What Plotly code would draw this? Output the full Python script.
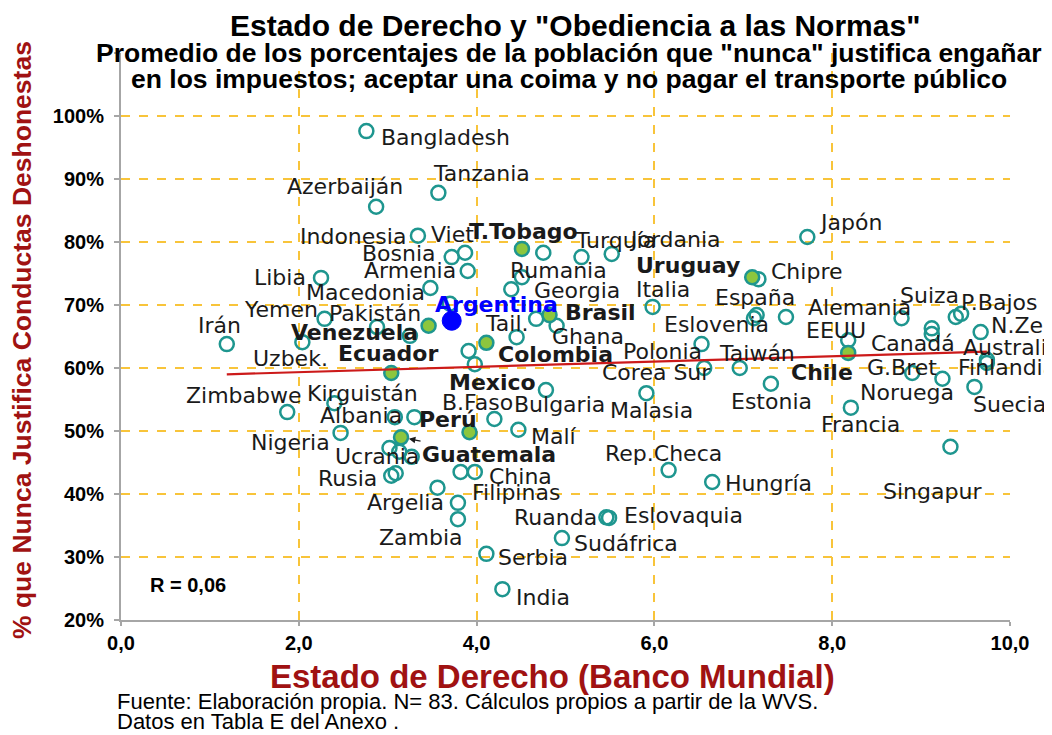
import numpy as np
import plotly.graph_objects as go

# ------------------------------------------------------------
# Datos: Estado de Derecho (Banco Mundial, 0-10) vs % que nunca
# justifica conductas deshonestas (WVS). "" = punto sin etiqueta
# ------------------------------------------------------------
paises = [
    "Bangladesh", "Azerbaiján", "Tanzania", "Indonesia", "Viet", "Bosnia", "Armenia",
    "Macedonia", "Libia", "T.Tobago", "", "Turquía", "Jordania", "Rumania", "Georgia",
    "Argentina", "", "Pakistán", "", "Venezuela", "Yemen", "Irán", "Uzbek.", "Ecuador",
    "Brasil", "", "Ghana", "Tail.", "Colombia", "", "Mexico", "Italia", "Polonia",
    "Corea Sur", "Taiwán", "Malasia", "Estonia", "Japón", "Uruguay", "Chipre", "España",
    "Eslovenia", "Alemania", "EEUU", "Chile", "Suiza", "Canadá", "", "P.Bajos", "",
    "N.Zel", "Australia", "Finlandia", "G.Bret", "Noruega", "Suecia", "Francia",
    "Singapur", "Zimbabwe", "Kirguistán", "Nigeria", "", "Albania", "Guatemala", "", "",
    "Ucrania", "Rusia", "", "Perú", "B.Faso", "Malí", "Bulgaria", "China", "", "Argelia",
    "Filipinas", "Zambia", "Ruanda", "Eslovaquia", "Sudáfrica", "Serbia", "India",
    "Rep.Checa", "Hungría",
]
estado_derecho = [
    2.76, 2.87, 3.57, 3.34, 3.87, 3.72, 3.90,
    3.48, 2.25, 4.51, 4.75, 5.18, 5.52, 4.51, 4.39,
    3.72, 3.70, 2.88, 3.25, 3.46, 2.29, 1.19, 2.04, 3.04,
    4.82, 4.67, 4.90, 4.45, 4.11, 3.91, 3.98, 5.98, 6.53,
    6.56, 6.96, 5.91, 7.31, 7.72, 7.10, 7.17, 7.15,
    7.12, 7.48, 8.18, 8.18, 8.78, 9.12, 9.12, 9.45, 9.39,
    9.67, 9.74, 9.74, 8.90, 9.24, 9.60, 8.21,
    9.33, 1.87, 2.40, 2.47, 3.08, 3.30, 3.15, 3.02, 3.13,
    3.27, 3.04, 3.09, 3.92, 4.20, 4.47, 4.78, 3.98, 3.82, 3.56,
    3.79, 3.79, 5.46, 5.49, 4.96, 4.11, 4.29,
    6.16, 6.65,
]
pct_nunca = [
    97.6, 85.6, 87.8, 81.0, 78.3, 77.6, 75.4,
    72.7, 74.3, 78.9, 78.3, 77.6, 78.1, 74.4, 72.5,
    67.5, 70.2, 66.5, 65.1, 66.7, 67.8, 63.8, 64.1, 59.2,
    68.4, 67.8, 66.7, 64.9, 64.0, 62.7, 60.6, 69.7, 63.8,
    60.0, 60.0, 56.0, 57.5, 80.8, 74.4, 74.1, 68.4,
    67.9, 68.1, 64.4, 62.4, 67.9, 66.3, 65.4, 68.6, 68.1,
    65.7, 61.3, 60.8, 59.2, 58.3, 57.0, 53.7,
    47.5, 53.0, 54.4, 49.7, 52.2, 52.2, 49.0, 47.3, 46.7,
    45.9, 42.9, 43.3, 49.8, 51.9, 50.2, 56.5, 43.5, 43.5, 41.0,
    38.6, 36.0, 36.3, 36.2, 33.0, 30.5, 24.9,
    43.8, 41.9,
]
latam = ["T.Tobago", "Brasil", "Colombia", "Ecuador", "Venezuela", "Uruguay", "Chile", "Perú", "Guatemala"]
negrita = latam + ["Mexico"]
r_texto = "R = 0,06"

# ------------------------------------------------------------
# Estilo
# ------------------------------------------------------------
TEAL = "#1E968F"
VERDE = "#8CC63E"
ROJO_OSC = "#A01212"
ORO = "#F8C43A"
GRIS = "#A6A6A6"

# la pagina tiene 8px de margen en body: la figura se dibuja desplazada
OFF = 8
W, H = 1052 - OFF, 735 - OFF
PL, PR, PT, PB = 121 - OFF, 1010 - OFF, 53 - OFF, 620 - OFF   # area de datos (px figura)


def papel(px, py):
    # px, py en pixeles de la pagina
    return (px - OFF - PL) / (PR - PL), (PB - (py - OFF)) / (PB - PT)


# colocacion de etiquetas: (anclaje, dx, dy) en pixeles respecto al punto
ETIQ = {
    "Bangladesh": ("left", 13, 6), "Azerbaiján": ("center", -31, -20),
    "Tanzania": ("left", -7, -19), "Indonesia": ("right", -10, 1),
    "Viet": ("center", -13, -18), "Bosnia": ("right", -14, -4),
    "Armenia": ("right", -10, 0), "Macedonia": ("right", -3, 5),
    "Libia": ("right", -13, 0), "T.Tobago": ("center", 2, -17),
    "Turquía": ("left", -9, -17), "Jordania": ("left", 15, -14),
    "Rumania": ("left", -14, -7), "Georgia": ("left", 21, 1),
    "Argentina": ("left", -19, -16), "Pakistán": ("center", -2, -14),
    "Venezuela": ("right", -9, 7), "Yemen": ("right", -5, -9),
    "Irán": ("center", -7, -19), "Uzbek.": ("center", -12, 16),
    "Ecuador": ("center", -3, -20), "Brasil": ("left", 13, -3),
    "Ghana": ("left", -7, 11), "Tail.": ("center", -10, -14),
    "Colombia": ("left", 10, 12), "Mexico": ("center", 18, 18),
    "Italia": ("center", 10, -17), "Polonia": ("center", -39, 7),
    "Corea Sur": ("center", -48, 4), "Taiwán": ("center", 17, -15),
    "Malasia": ("center", 5, 17), "Estonia": ("center", 1, 18),
    "Japón": ("left", 10, -14), "Uruguay": ("right", -10, -12),
    "Chipre": ("left", 11, -8), "España": ("center", -2, -18),
    "Eslovenia": ("center", -37, 6), "Alemania": ("left", 20, -9),
    "EEUU": ("center", -12, -10), "Chile": ("center", -26, 20),
    "Suiza": ("center", 28, -23), "Canadá": ("center", -19, 15),
    "P.Bajos": ("left", -2, -11), "N.Zel": ("left", 8, -7),
    "Australia": ("left", -26, -12), "Finlandia": ("left", -31, 5),
    "G.Bret": ("center", -10, -6), "Noruega": ("center", -35, 14),
    "Suecia": ("left", -3, 18), "Francia": ("center", 10, 17),
    "Singapur": ("center", -18, 45), "Zimbabwe": ("center", -43, -17),
    "Kirguistán": ("center", 28, -10), "Nigeria": ("right", -9, 10),
    "Albania": ("right", -10, -2), "Ucrania": ("center", -35, 0),
    "Rusia": ("right", -12, 3), "Perú": ("center", -21, -13),
    "B.Faso": ("center", -17, -17), "Malí": ("left", 11, 7),
    "Bulgaria": ("center", 14, 14), "China": ("left", 12, 5),
    "Argelia": ("center", -32, 15), "Filipinas": ("left", 12, -10),
    "Zambia": ("center", -37, 18), "Ruanda": ("right", -7, 0),
    "Eslovaquia": ("left", 13, -2), "Sudáfrica": ("left", 10, 5),
    "Serbia": ("left", 10, 4), "India": ("left", 12, 8),
    "Rep.Checa": ("center", -5, -17), "Hungría": ("left", 11, 1),
}

x = np.array(estado_derecho)
y = np.array(pct_nunca)
es_latam = np.array([p in latam for p in paises])
es_arg = np.array([p == "Argentina" for p in paises])
resto = ~es_latam & ~es_arg

fig = go.Figure()

fig.add_trace(go.Scatter(
    x=x[resto], y=y[resto], mode="markers", hoverinfo="skip",
    marker=dict(size=14, color="rgba(255,255,255,0)", line=dict(color=TEAL, width=2.5)),
))
fig.add_trace(go.Scatter(
    x=x[es_latam], y=y[es_latam], mode="markers", hoverinfo="skip",
    marker=dict(size=14, color=VERDE, line=dict(color=TEAL, width=2.5)),
))
fig.add_trace(go.Scatter(
    x=x[es_arg], y=y[es_arg], mode="markers", hoverinfo="skip",
    marker=dict(size=19, color="#0000FF", line=dict(color="#0000FF", width=1)),
))

# linea de tendencia (minimos cuadrados)
m, b = np.polyfit(x, y, 1)
xl = np.array([x.min(), x.max()])
fig.add_trace(go.Scatter(x=xl, y=m * xl + b, mode="lines", hoverinfo="skip",
                         line=dict(color="#CC1A1A", width=2.2)))

anot = []
for p, xi, yi in zip(paises, estado_derecho, pct_nunca):
    if not p or p == "Guatemala":
        continue
    anc, dx, dy = ETIQ[p]
    col = "#0000FF" if p == "Argentina" else "#1a1a1a"
    peso = "bold" if (p in negrita or p == "Argentina") else "normal"
    anot.append(dict(
        x=xi, y=yi, xref="x", yref="y", text=p, showarrow=False,
        xanchor=anc, yanchor="middle", xshift=dx, yshift=-dy,
        font=dict(family="DejaVu Sans", size=22, color=col, weight=peso),
    ))

ig = paises.index("Guatemala")
anot.append(dict(
    x=estado_derecho[ig], y=pct_nunca[ig], xref="x", yref="y", text="Guatemala",
    showarrow=True, ax=88, ay=17, arrowhead=2, arrowsize=1, arrowwidth=1.3,
    arrowcolor="#1a1a1a", standoff=8,
    font=dict(family="DejaVu Sans", size=22, color="#1a1a1a", weight="bold"),
))


def texto(t, px, py, size, anc="center", color="black", peso="bold", fam="Liberation Sans", ang=0):
    xp, yp = papel(px, py)
    anot.append(dict(
        x=xp, y=yp, xref="paper", yref="paper", text=t, showarrow=False,
        xanchor=anc, yanchor="middle", textangle=ang,
        font=dict(family=fam, size=size, color=color, weight=peso),
    ))


texto('Estado de Derecho y "Obediencia a las Normas"', 575, 25, 30)
texto('Promedio de los porcentajes de la población que "nunca" justifica engañar', 568, 53, 26.5)
texto("en los impuestos; aceptar una coima y no pagar el transporte público", 569, 79, 26.5)
texto("% que Nunca Justifica Conductas Deshonestas", 22, 340, 26.5, color=ROJO_OSC, ang=-90)
texto("Estado de Derecho (Banco Mundial)", 552, 676, 33, color=ROJO_OSC)
texto("Fuente: Elaboración propia. N= 83. Cálculos propios a partir de la WVS.", 115, 702, 22,
      anc="left", peso="normal")
texto("Datos en Tabla E del Anexo .", 115, 721, 22, anc="left", peso="normal")
texto(r_texto, 148, 585, 20, anc="left")

yticks = list(range(20, 111, 10))
fig.update_layout(
    width=W, height=H, template="none", showlegend=False,
    margin=dict(l=PL, r=W - PR, t=PT, b=H - PB, pad=0),
    paper_bgcolor="white", plot_bgcolor="white",
    separators=",.",
    annotations=anot,
    xaxis=dict(
        range=[0, 10], tickvals=[0, 2, 4, 6, 8, 10], tickformat=".1f",
        showgrid=True, gridcolor=ORO, griddash="dash", gridwidth=1.5,
        zeroline=False, showline=True, linecolor=GRIS, linewidth=2,
        ticks="outside", ticklen=4, tickcolor=GRIS, tickwidth=1.5, automargin=False,
        tickfont=dict(family="Liberation Sans", size=20, color="black", weight="bold"),
    ),
    yaxis=dict(
        range=[20, 110], tickvals=yticks,
        ticktext=[f"{v}%" if v <= 100 else "" for v in yticks],
        showgrid=True, gridcolor=ORO, griddash="dash", gridwidth=1.5,
        zeroline=False, showline=True, linecolor=GRIS, linewidth=2,
        ticks="outside", ticklen=5, tickcolor=GRIS, tickwidth=1.5, automargin=False,
        ticklabelstandoff=6,
        tickfont=dict(family="Liberation Sans", size=20, color="black", weight="bold"),
    ),
)

fig.write_html("out.html")
